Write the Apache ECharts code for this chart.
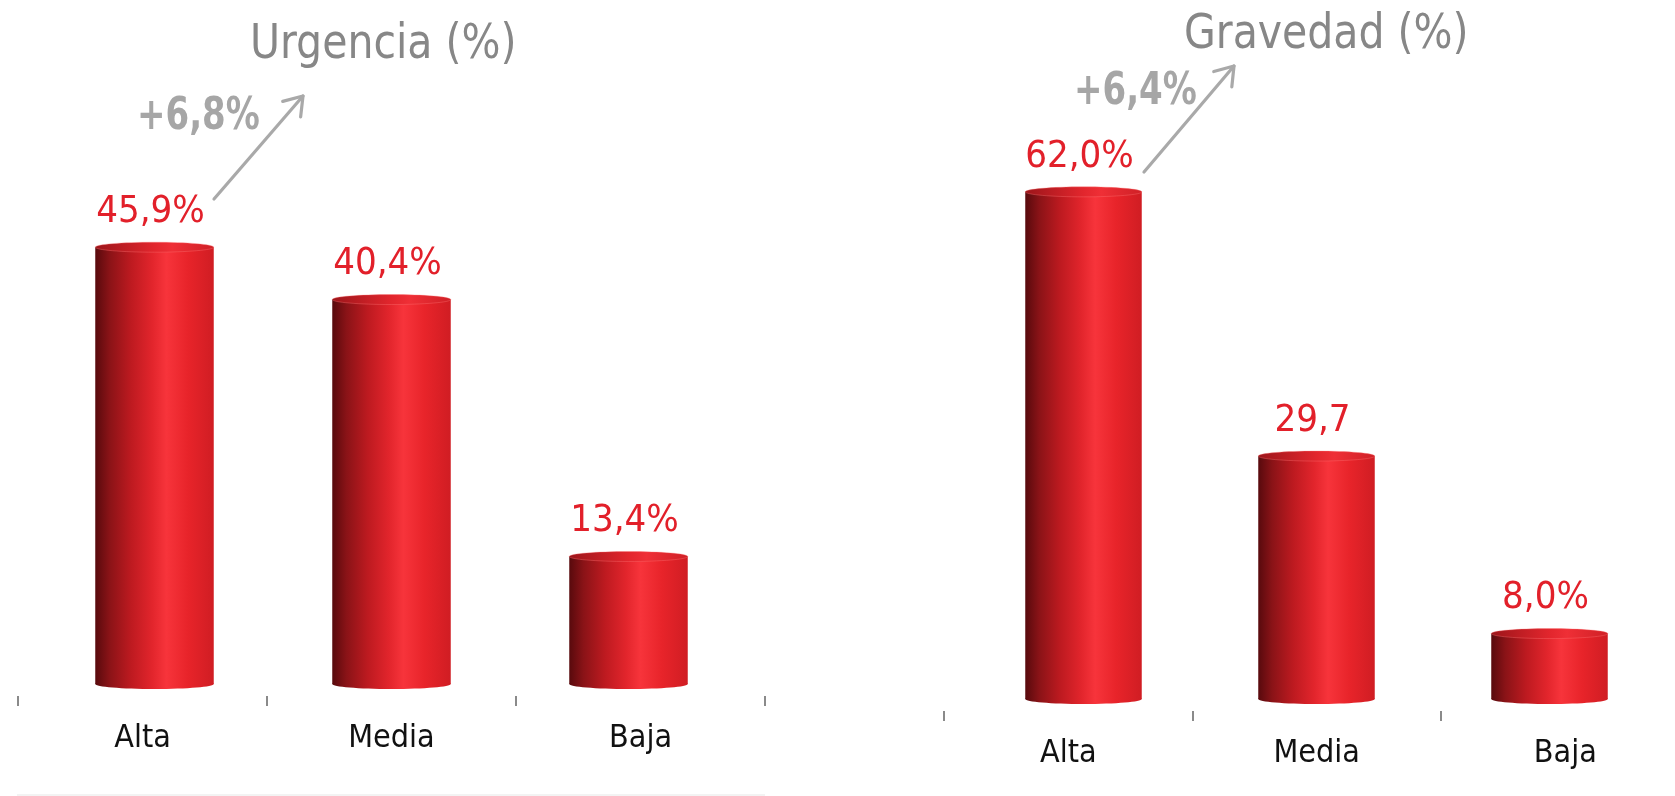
<!DOCTYPE html>
<html>
<head>
<meta charset="utf-8">
<script src="https://cdn.jsdelivr.net/npm/echarts@6/dist/echarts.min.js"></script>
<style>
html,body{margin:0;padding:0;background:#fff;}
#chart{width:1675px;height:796px;}
</style>
</head>
<body>
<div id="chart"></div>
<script>
// ---- data ----
const categories = ['Alta', 'Media', 'Baja'];
const urgenciaValues = [45.9, 40.4, 13.4];
const urgenciaLabels = ['45,9%', '40,4%', '13,4%'];
const gravedadValues = [62.0, 29.7, 8.0];
const gravedadLabels = ['62,0%', '29,7', '8,0%'];
const chartTitles = ['Urgencia (%)', 'Gravedad (%)'];
const deltaLabels = ['+6,8%', '+6,4%'];

// ---- styling ----
const FONT = "'DejaVu Sans Condensed', 'DejaVu Sans', sans-serif";
const RED = '#e2202a';
const RY = 5;

const bodyGradient = new echarts.graphic.LinearGradient(0, 0, 1, 0, [
  { offset: 0, color: '#580a0d' },
  { offset: 0.12, color: '#8a1317' },
  { offset: 0.3, color: '#bd1a20' },
  { offset: 0.48, color: '#e2252c' },
  { offset: 0.6, color: '#f7343b' },
  { offset: 0.78, color: '#e8242a' },
  { offset: 1, color: '#d01d23' }
]);
const topGradient = new echarts.graphic.LinearGradient(0, 0, 1, 0, [
  { offset: 0, color: '#9c151a' },
  { offset: 0.5, color: '#e2262d' },
  { offset: 0.65, color: '#ef2f36' },
  { offset: 1, color: '#cf2026' }
]);

function makeRender(labels) {
  return function (params, api) {
    const idx = api.value(0);
    const v = api.value(1);
    const top = api.coord([idx, v]);
    const base = api.coord([idx, 0]);
    const band = api.size([1, 0])[0];
    const w = band * 0.5;
    const cx = top[0];
    return {
      type: 'group',
      children: [
        { type: 'ellipse', shape: { cx: cx, cy: base[1], rx: w / 2, ry: RY }, style: { fill: bodyGradient } },
        { type: 'rect', shape: { x: cx - w / 2, y: top[1], width: w, height: base[1] - top[1] }, style: { fill: bodyGradient } },
        { type: 'ellipse', shape: { cx: cx, cy: top[1], rx: w / 2, ry: RY }, style: { fill: topGradient, stroke: 'rgba(255,120,120,0.35)', lineWidth: 1 } },
        { type: 'text', x: cx - 4, y: top[1] - 35, style: { text: labels[params.dataIndex], fill: RED, font: '38px ' + FONT, align: 'center', verticalAlign: 'middle' } }
      ]
    };
  };
}

function arrow(x1, y1, x2, y2) {
  const ang = Math.atan2(y2 - y1, x2 - x1);
  const L = 21, a = 0.6;
  const p1 = [x2 - L * Math.cos(ang - a), y2 - L * Math.sin(ang - a)];
  const p2 = [x2 - L * Math.cos(ang + a), y2 - L * Math.sin(ang + a)];
  const st = { stroke: '#a9a9a9', lineWidth: 3.2, lineCap: 'round', lineJoin: 'round', fill: null };
  return [
    { type: 'line', shape: { x1: x1, y1: y1, x2: x2, y2: y2 }, style: st },
    { type: 'polyline', shape: { points: [p1, [x2, y2], p2] }, style: st }
  ];
}

const tickAxisCommon = {
  type: 'category',
  data: categories,
  boundaryGap: true,
  axisLine: { show: false },
  axisTick: { show: true, length: 10, lineStyle: { color: '#8a8a8a', width: 2 } },
  axisLabel: { color: '#111', fontSize: 32, fontFamily: FONT, margin: 27 },
  splitLine: { show: false }
};
const hiddenCat = { type: 'category', data: categories, show: false, boundaryGap: true };
const gridCommon = { containLabel: false, outerBoundsMode: 'none' };

const option = {
  animation: false,
  backgroundColor: '#fff',
  grid: [
    Object.assign({ left: 18, width: 747, top: 100, bottom: 100 }, gridCommon),
    Object.assign({ left: 36, width: 711, top: 113, bottom: 112 }, gridCommon),
    Object.assign({ left: 944, width: 745.5, top: 100, bottom: 85 }, gridCommon),
    Object.assign({ left: 967, width: 699, top: 126.4, bottom: 97 }, gridCommon)
  ],
  xAxis: [
    Object.assign({ gridIndex: 0 }, tickAxisCommon),
    Object.assign({ gridIndex: 1 }, hiddenCat),
    Object.assign({ gridIndex: 2 }, tickAxisCommon),
    Object.assign({ gridIndex: 3 }, hiddenCat)
  ],
  yAxis: [
    { gridIndex: 0, type: 'value', show: false, min: 0, max: 60 },
    { gridIndex: 1, type: 'value', show: false, min: 0, max: 60 },
    { gridIndex: 2, type: 'value', show: false, min: 0, max: 70 },
    { gridIndex: 3, type: 'value', show: false, min: 0, max: 70 }
  ],
  series: [
    {
      type: 'custom', xAxisIndex: 1, yAxisIndex: 1,
      data: urgenciaValues.map((v, i) => [i, v]),
      renderItem: makeRender(urgenciaLabels)
    },
    {
      type: 'custom', xAxisIndex: 3, yAxisIndex: 3,
      data: gravedadValues.map((v, i) => [i, v]),
      renderItem: makeRender(gravedadLabels)
    }
  ],
  graphic: [
    { type: 'text', x: 250, y: 46, scaleX: 0.95, style: { text: chartTitles[0], fill: '#878787', font: '48px ' + FONT, align: 'left', verticalAlign: 'middle' } },
    { type: 'text', x: 1184, y: 36, scaleX: 0.95, style: { text: chartTitles[1], fill: '#878787', font: '48px ' + FONT, align: 'left', verticalAlign: 'middle' } },
    { type: 'text', x: 137, y: 117, scaleX: 0.84, style: { text: deltaLabels[0], fill: '#a6a6a6', font: 'bold 45px ' + FONT, align: 'left', verticalAlign: 'middle' } },
    { type: 'text', x: 1074, y: 92, scaleX: 0.84, style: { text: deltaLabels[1], fill: '#a6a6a6', font: 'bold 45px ' + FONT, align: 'left', verticalAlign: 'middle' } },
    ...arrow(214, 199, 303, 96),
    ...arrow(1144, 172, 1234, 66),
    { type: 'line', shape: { x1: 17, y1: 795, x2: 765, y2: 795 }, style: { stroke: '#efefef', lineWidth: 1.5 } }
  ]
};

const chart = echarts.init(document.getElementById('chart'), null, { renderer: 'canvas' });
chart.setOption(option);
</script>
</body>
</html>
